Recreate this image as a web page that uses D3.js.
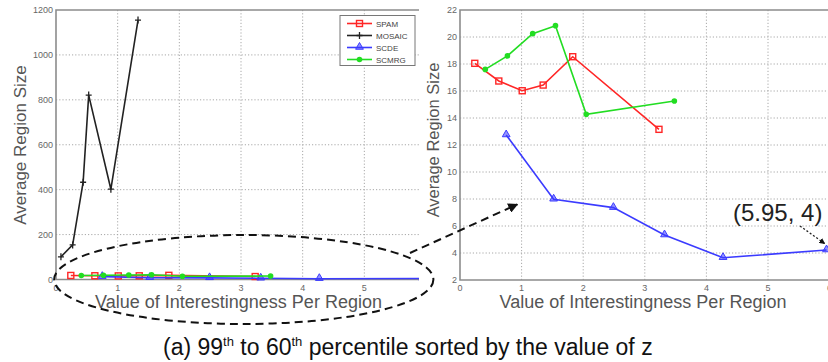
<!DOCTYPE html>
<html>
<head>
<meta charset="utf-8">
<script src="https://cdn.jsdelivr.net/npm/d3@7"></script>
<style>
  body { margin: 0; background: #fff; }
  svg { display: block; font-family: "Liberation Sans", Arial, sans-serif; }
</style>
</head>
<body>
<svg id="chart" width="828" height="362"></svg>
<script>
// values
var spamX   = [0.24, 0.63, 1.01, 1.35, 1.83, 3.23];
var spamY   = [18.05, 16.74, 16.02, 16.44, 18.54, 13.16];
var mosaicX = [0.08, 0.27, 0.44, 0.53, 0.89, 1.33];
var mosaicY = [101, 154, 433, 821, 402, 1155];
var scdeX   = [0.75, 1.52, 2.49, 3.32, 4.27, 5.95];
var scdeY   = [12.74, 7.98, 7.36, 5.33, 3.65, 4.22];
var scmrgX  = [0.41, 0.77, 1.18, 1.55, 2.05, 3.48];
var scmrgY  = [17.6, 18.6, 20.25, 20.84, 14.27, 15.26];

var xTicks      = [0, 1, 2, 3, 4, 5, 6];
var yTicksLeft  = [0, 200, 400, 600, 800, 1000, 1200];
var yTicksRight = [2, 4, 6, 8, 10, 12, 14, 16, 18, 20, 22];
var legendNames = ["SPAM", "MOSAIC", "SCDE", "SCMRG"];
var annotText   = "(5.95, 4)";

var svg = d3.select("#chart");
var AXIS = "#8c8c8c", GRID = "#a8a8a8", TICK = "#666";

var series = [
  {name: "SPAM",   xs: spamX,   ys: spamY,   color: "#ff2626", marker: "square"},
  {name: "MOSAIC", xs: mosaicX, ys: mosaicY, color: "#222222", marker: "plus"},
  {name: "SCDE",   xs: scdeX,   ys: scdeY,   color: "#3b3bff", marker: "triangle"},
  {name: "SCMRG",  xs: scmrgX,  ys: scmrgY,  color: "#22dd22", marker: "circle"}
];

function drawMarker(g, type, color, x, y) {
  if (type == "square") {
    g.append("rect").attr("x", x - 3).attr("y", y - 3).attr("width", 6).attr("height", 6)
      .attr("fill", "none").attr("stroke", color).attr("stroke-width", 1.4);
  } else if (type == "plus") {
    g.append("path").attr("d", "M" + (x - 3) + "," + y + "h6M" + x + "," + (y - 3.5) + "v7")
      .attr("stroke", color).attr("stroke-width", 1.3);
  } else if (type == "triangle") {
    g.append("path").attr("d", d3.symbol(d3.symbolTriangle, 26)())
      .attr("transform", "translate(" + x + "," + (y - 0.5) + ")")
      .attr("fill", color).attr("fill-opacity", 0.55).attr("stroke", color).attr("stroke-width", 1);
  } else {
    g.append("circle").attr("cx", x).attr("cy", y).attr("r", 2.8).attr("fill", color);
  }
}

// one panel: scales, grid, spines, ticks, lines
function panel(id, x, y, clipRight, yTicks, list) {
  var g = svg.append("g");
  var x0 = x.range()[0], yb = y.range()[0], yt = y.range()[1];

  svg.append("clipPath").attr("id", id).append("rect")
    .attr("x", x0).attr("y", 0).attr("width", clipRight - x0).attr("height", yb + 6);

  // dotted grid
  g.selectAll(".gx").data(xTicks.slice(1, -1)).enter().append("line")
    .attr("x1", d => x(d)).attr("x2", d => x(d)).attr("y1", yt).attr("y2", yb)
    .attr("stroke", GRID).attr("stroke-dasharray", "1.2,2");
  g.selectAll(".gy").data(yTicks.slice(1, -1)).enter().append("line")
    .attr("x1", x0).attr("x2", clipRight).attr("y1", d => y(d)).attr("y2", d => y(d))
    .attr("stroke", GRID).attr("stroke-dasharray", "1.2,2");

  // spines
  g.append("path")
    .attr("d", "M" + clipRight + "," + yt + "H" + x0 + "V" + yb + "H" + clipRight)
    .attr("fill", "none").attr("stroke", AXIS).attr("stroke-width", 1.6);

  // tick labels (only those inside the visible part)
  g.selectAll(".tx").data(xTicks.filter(d => x(d) <= clipRight + 3)).enter().append("text")
    .attr("x", d => x(d)).attr("y", yb + 11).attr("text-anchor", "middle")
    .attr("font-size", 9).attr("fill", TICK).text(d => d);
  g.selectAll(".ty").data(yTicks).enter().append("text")
    .attr("x", x0 - 3).attr("y", d => y(d) + 3).attr("text-anchor", "end")
    .attr("font-size", 9).attr("fill", TICK).text(d => d);

  // data
  var plot = svg.append("g").attr("clip-path", "url(#" + id + ")");
  var line = d3.line().x(d => x(d[0])).y(d => y(d[1]));
  list.forEach(function (s) {
    var pts = d3.zip(s.xs, s.ys);
    plot.append("path").attr("d", line(pts)).attr("fill", "none")
      .attr("stroke", s.color).attr("stroke-width", 1.6);
    pts.forEach(p => drawMarker(plot, s.marker, s.color, x(p[0]), y(p[1])));
  });
  return g;
}

// left panel (right edge cut off in the original)
var xL = d3.scaleLinear().domain([0, 6]).range([56, 426]);
var yL = d3.scaleLinear().domain([0, 1200]).range([279.5, 10]);
panel("clipL", xL, yL, 419, yTicksLeft, series);

// right panel, zoomed
var xR = d3.scaleLinear().domain([0, 6]).range([460, 829.6]);
var yR = d3.scaleLinear().domain([2, 22]).range([280, 10]);
panel("clipR", xR, yR, 828, yTicksRight, series.filter(s => s.name != "MOSAIC"));

// axis titles
[[238.5, 26, 145, 17], [643, 439, 140, 16.5]].forEach(function (t) {
  svg.append("text").attr("x", t[0]).attr("y", 308).attr("text-anchor", "middle")
    .attr("font-size", 18).attr("fill", "#555").text("Value of Interestingness Per Region");
  svg.append("text").attr("transform", "translate(" + t[1] + "," + t[2] + ") rotate(-90)")
    .attr("text-anchor", "middle").attr("font-size", t[3]).attr("fill", "#555")
    .text("Average Region Size");
});

// legend
var lg = svg.append("g");
lg.append("rect").attr("x", 340).attr("y", 15.5).attr("width", 75).attr("height", 50)
  .attr("fill", "#fff").attr("stroke", "#777").attr("stroke-width", 1);
series.forEach(function (s, i) {
  var yy = 23.5 + i * 12;
  lg.append("line").attr("x1", 347).attr("x2", 372).attr("y1", yy).attr("y2", yy)
    .attr("stroke", s.color).attr("stroke-width", 1.6);
  drawMarker(lg, s.marker, s.color, 359.5, yy);
  lg.append("text").attr("x", 376).attr("y", yy + 3).attr("font-size", 8).attr("fill", "#444")
    .text(legendNames[i]);
});

// dashed ellipse around the low part of the left panel, and arrow to the right panel
var defs = svg.append("defs");
defs.append("marker").attr("id", "head").attr("viewBox", "0 0 10 10").attr("refX", 9).attr("refY", 5)
  .attr("markerWidth", 5).attr("markerHeight", 5).attr("orient", "auto")
  .append("path").attr("d", "M0,0L10,5L0,10z").attr("fill", "#111");
defs.append("marker").attr("id", "headS").attr("viewBox", "0 0 10 10").attr("refX", 9).attr("refY", 5)
  .attr("markerWidth", 4.5).attr("markerHeight", 4.5).attr("orient", "auto")
  .append("path").attr("d", "M0,0L10,5L0,10z").attr("fill", "#111");

var ex0 = xL(-0.03), ex1 = xL(6.12);
svg.append("ellipse").attr("cx", (ex0 + ex1) / 2).attr("cy", yL(0))
  .attr("rx", (ex1 - ex0) / 2).attr("ry", 44.5)
  .attr("fill", "none").attr("stroke", "#111").attr("stroke-width", 2)
  .attr("stroke-dasharray", "8,5");
svg.append("line").attr("x1", 410).attr("y1", 253).attr("x2", xR(0.93)).attr("y2", yR(7.6))
  .attr("stroke", "#111").attr("stroke-width", 2).attr("stroke-dasharray", "8,5")
  .attr("marker-end", "url(#head)");

// annotation of the last SCDE point
svg.append("text").attr("x", 733).attr("y", 221).attr("font-size", 24).attr("fill", "#222")
  .text(annotText);
svg.append("line").attr("x1", 800).attr("y1", 226).attr("x2", xR(5.92)).attr("y2", yR(4.7))
  .attr("stroke", "#222").attr("stroke-width", 1.3).attr("stroke-dasharray", "2,2")
  .attr("marker-end", "url(#headS)");

// caption
var cap = svg.append("text").attr("x", 163).attr("y", 355).attr("font-size", 23).attr("fill", "#111");
cap.append("tspan").text("(a) 99");
cap.append("tspan").attr("font-size", 13).attr("dy", -9).text("th");
cap.append("tspan").attr("dy", 9).text(" to 60");
cap.append("tspan").attr("font-size", 13).attr("dy", -9).text("th");
cap.append("tspan").attr("dy", 9).text(" percentile sorted by the value of z");
</script>
</body>
</html>
